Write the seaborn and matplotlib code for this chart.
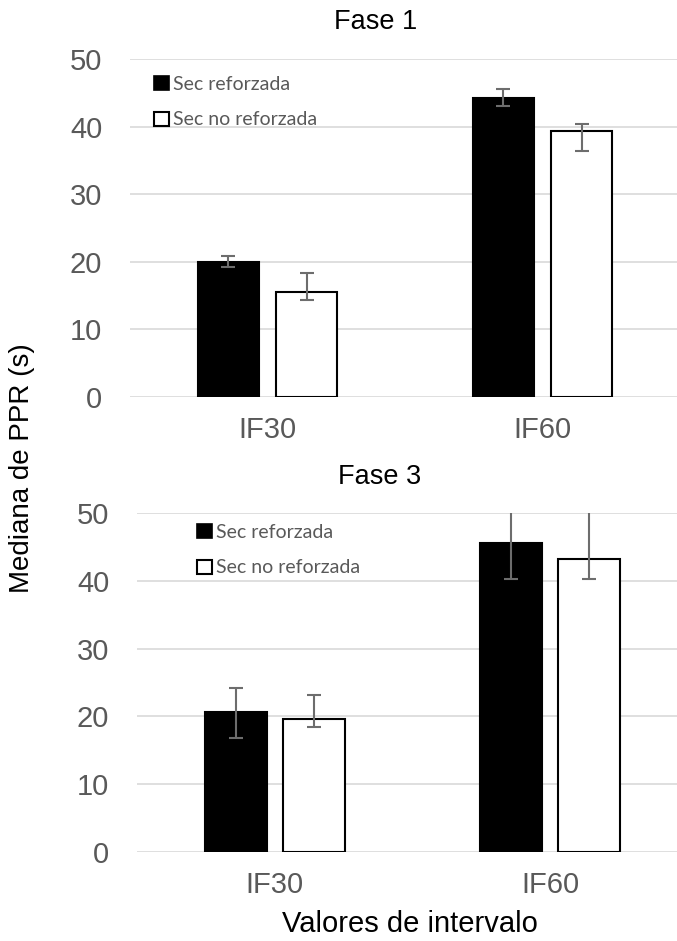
import matplotlib

matplotlib.use("Agg")
import matplotlib.pyplot as plt
import pandas as pd
import seaborn as sns
from matplotlib.patches import Patch

# ------------------------------------------------------------------ #
# Data
# ------------------------------------------------------------------ #
categorias = ["IF30", "IF60"]
series = ["Sec reforzada", "Sec no reforzada"]

fase1_reforzada = [20.0, 44.3]
fase1_no_reforzada = [15.6, 39.3]
fase1_reforzada_bajo = [19.3, 43.1]
fase1_reforzada_alto = [20.8, 45.5]
fase1_no_reforzada_bajo = [14.3, 36.4]
fase1_no_reforzada_alto = [18.4, 40.4]

fase3_reforzada = [20.6, 45.6]
fase3_no_reforzada = [19.6, 43.2]
fase3_reforzada_bajo = [16.8, 40.2]
fase3_reforzada_alto = [24.2, 51.5]
fase3_no_reforzada_bajo = [18.4, 40.2]
fase3_no_reforzada_alto = [23.2, 51.0]

sns.set_theme(style="white")
plt.rcParams["font.family"] = ["Liberation Sans", "DejaVu Sans"]

GRAY_TEXT = "#595959"
GRID = "#d9d9d9"
ERR = "#6d6d6d"


def make_frame(reforzada, no_reforzada):
    return pd.DataFrame({
        "cat": categorias * 2,
        "serie": [series[0]] * 2 + [series[1]] * 2,
        "valor": list(reforzada) + list(no_reforzada),
    })


def draw_panel(ax, df, bajo, alto, xmax, legend_anchor):
    sns.barplot(data=df, x="cat", y="valor", hue="serie", hue_order=series,
                order=categorias, palette=["black", "white"], edgecolor="black",
                linewidth=1.5, width=0.568, gap=0.208, errorbar=None,
                legend=False, ax=ax, zorder=3)
    for container, lo, hi in zip(ax.containers, bajo, alto):
        for bar, l, h in zip(container, lo, hi):
            xc = bar.get_x() + bar.get_width() / 2
            v = bar.get_height()
            ax.errorbar(xc, v, yerr=[[v - l], [h - v]], fmt="none", ecolor=ERR,
                        elinewidth=1.5, capsize=5, capthick=1.5, zorder=4)
    ax.set_ylim(0, 50)
    ax.set_xlim(-0.5, xmax)
    ax.set_yticks(range(0, 51, 10))
    ax.yaxis.grid(True, color=GRID, linewidth=1.2)
    ax.set_axisbelow(True)
    sns.despine(ax=ax, left=True, bottom=True, top=True, right=True)
    ax.tick_params(axis="both", length=0, labelsize=21, labelcolor=GRAY_TEXT)
    ax.tick_params(axis="y", pad=20)
    ax.tick_params(axis="x", pad=14)
    ax.set_xlabel("")
    ax.set_ylabel("")
    handles = [Patch(facecolor="black", edgecolor="black", linewidth=1.2),
               Patch(facecolor="white", edgecolor="black", linewidth=1.5)]
    leg = ax.legend(handles, series, loc="upper left", bbox_to_anchor=legend_anchor,
                    bbox_transform=ax.figure.transFigure, frameon=False,
                    handlelength=0.75, handleheight=0.75, handletextpad=0.25,
                    labelspacing=0.95, borderpad=0, borderaxespad=0,
                    prop={"family": "Lato", "size": 14})
    for t in leg.get_texts():
        t.set_color(GRAY_TEXT)


fig = plt.figure(figsize=(6.77, 9.41), dpi=100)
ax1 = fig.add_axes([130 / 677, 1 - 397 / 941, 547 / 677, 338 / 941])
ax2 = fig.add_axes([137 / 677, 1 - 852 / 941, 540 / 677, 339 / 941])

draw_panel(ax1, make_frame(fase1_reforzada, fase1_no_reforzada),
           [fase1_reforzada_bajo, fase1_no_reforzada_bajo],
           [fase1_reforzada_alto, fase1_no_reforzada_alto],
           (677 - 130) / 275 - 0.5, (154 / 677, 1 - 76 / 941))
draw_panel(ax2, make_frame(fase3_reforzada, fase3_no_reforzada),
           [fase3_reforzada_bajo, fase3_no_reforzada_bajo],
           [fase3_reforzada_alto, fase3_no_reforzada_alto],
           (677 - 137) / 275.5 - 0.5, (197 / 677, 1 - 524 / 941))

fig.text(376 / 677, 1 - 22 / 941, "Fase 1", ha="center", va="center", fontsize=19.5, color="black")
fig.text(380 / 677, 1 - 477 / 941, "Fase 3", ha="center", va="center", fontsize=19.5, color="black")
fig.text(410 / 677, 1 - 924 / 941, "Valores de intervalo", ha="center", va="center",
         fontsize=21, color="black")
fig.text(22 / 677, 1 - 468 / 941, "Mediana de PPR (s)", ha="center", va="center",
         rotation=90, fontsize=20, color="black")

fig.savefig("out.png", dpi=100)
